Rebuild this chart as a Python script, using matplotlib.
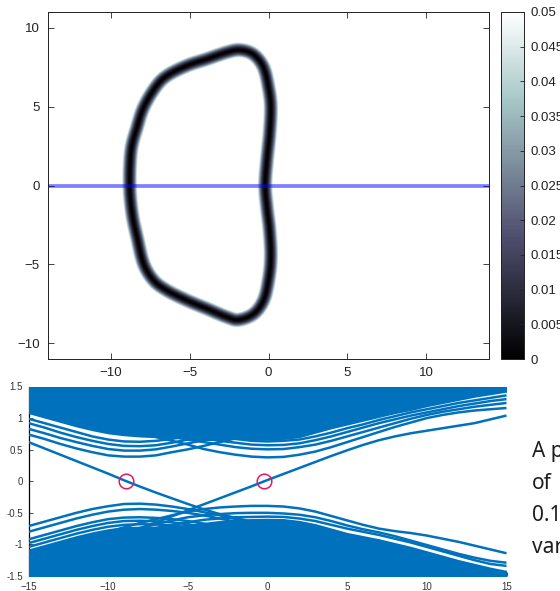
import numpy as np
import matplotlib
matplotlib.use("Agg")
import matplotlib.pyplot as plt

plt.rcParams['font.family'] = ['Liberation Sans', 'DejaVu Sans']

# ---------------------------------------------------------------
# Zero-energy loop in the (kx, ky) plane (closed, counter-clockwise)
# ---------------------------------------------------------------
loop_kx = [-8.83, -8.74, -8.36, -7.94, -7.19, -6.45, -5.18, -3.91, -2.64, -1.80,
           -0.95, -0.32, 0.00, 0.15, 0.07, -0.10, -0.21,
           -0.10, 0.07, 0.15, 0.00, -0.32, -0.95, -1.90, -2.64, -3.91,
           -5.18, -6.45, -7.30, -7.94, -8.36, -8.67]
loop_ky = [0.00, 2.22, 3.70, 4.97, 6.24, 6.98, 7.62, 8.04, 8.47, 8.61,
           8.32, 7.51, 6.24, 4.97, 3.28, 1.59, 0.00,
           -1.38, -2.86, -4.55, -6.03, -7.30, -8.15, -8.53, -8.36, -7.83,
           -7.30, -6.67, -6.03, -4.97, -3.28, -1.80]

# horizontal cut through the Brillouin zone
cut_ky = 0.0

# colour scale of the gap map
gap_ticks = [0, 0.005, 0.01, 0.015, 0.02, 0.025, 0.03, 0.035, 0.04, 0.045, 0.05]
gap_labels = ['0', '0.005', '0.01', '0.015', '0.02', '0.025', '0.03', '0.035',
              '0.04', '0.045', '0.05']

# ---------------------------------------------------------------
# Ribbon spectrum along the cut, sampled at k = -15 ... 15
# ---------------------------------------------------------------
k = np.arange(-15, 16)

edge_1 = [0.62, 0.52, 0.42, 0.32, 0.22, 0.12, 0.015, -0.085, -0.18, -0.27, -0.36,
          -0.445, -0.52, -0.58, -0.64, -0.70, -0.76, -0.82, -0.88, -0.94, -1.00,
          -1.06, -1.12, -1.18, -1.24, -1.30, -1.36, -1.42, -1.48, -1.54, -1.60]
edge_2 = [-1.41, -1.32, -1.22, -1.13, -1.03, -0.94, -0.84, -0.75, -0.65, -0.555, -0.46,
          -0.365, -0.27, -0.175, -0.08, 0.02, 0.115, 0.21, 0.305, 0.40, 0.49,
          0.575, 0.65, 0.71, 0.76, 0.80, 0.84, 0.88, 0.92, 0.98, 1.04]

# conduction-side subbands
a1 = [0.74, 0.67, 0.59, 0.52, 0.46, 0.41, 0.39, 0.39, 0.41, 0.46, 0.505, 0.56, 0.62,
      0.68, 0.74, 0.80, 0.86, 0.92, 0.98, 1.04, 1.10, 1.16, 1.22, 1.28, 1.34, 1.40,
      1.46, 1.52, 1.58, 1.64, 1.70]
a2 = [0.83, 0.76, 0.685, 0.62, 0.56, 0.51, 0.485, 0.485, 0.505, 0.55, 0.60, 0.65, 0.71,
      0.77, 0.83, 0.89, 0.95, 1.01, 1.07, 1.13, 1.19, 1.25, 1.31, 1.37, 1.43, 1.49,
      1.55, 1.61, 1.67, 1.73, 1.79]
a3 = [0.92, 0.85, 0.77, 0.70, 0.64, 0.59, 0.56, 0.555, 0.57, 0.61, 0.66, 0.71, 0.77,
      0.83, 0.89, 0.95, 1.01, 1.07, 1.13, 1.19, 1.25, 1.31, 1.37, 1.43, 1.49, 1.55,
      1.61, 1.67, 1.73, 1.79, 1.85]
a4 = [0.99, 0.92, 0.85, 0.78, 0.71, 0.66, 0.63, 0.625, 0.64, 0.67, 0.72, 0.77, 0.83,
      0.89, 0.95, 1.01, 1.07, 1.13, 1.19, 1.25, 1.31, 1.37, 1.43, 1.49, 1.55, 1.61,
      1.67, 1.73, 1.79, 1.85, 1.91]
b1 = [1.30, 1.22, 1.14, 1.06, 0.98, 0.90, 0.83, 0.76, 0.70, 0.64, 0.58, 0.51, 0.46,
      0.42, 0.39, 0.378, 0.385, 0.42, 0.47, 0.54, 0.62, 0.70, 0.78, 0.86, 0.93, 1.00,
      1.05, 1.09, 1.12, 1.14, 1.16]
b2 = [1.38, 1.30, 1.22, 1.14, 1.06, 0.98, 0.91, 0.84, 0.77, 0.71, 0.66, 0.62, 0.58,
      0.54, 0.515, 0.505, 0.51, 0.54, 0.58, 0.64, 0.71, 0.78, 0.85, 0.92, 0.99, 1.05,
      1.10, 1.14, 1.18, 1.21, 1.24]
b3 = [1.45, 1.37, 1.29, 1.21, 1.13, 1.05, 0.97, 0.90, 0.83, 0.77, 0.72, 0.68, 0.64,
      0.61, 0.58, 0.57, 0.575, 0.60, 0.65, 0.71, 0.78, 0.85, 0.92, 0.98, 1.04, 1.09,
      1.14, 1.19, 1.23, 1.27, 1.30]
b4 = [1.52, 1.44, 1.36, 1.28, 1.20, 1.12, 1.04, 0.97, 0.90, 0.84, 0.79, 0.74, 0.70,
      0.67, 0.64, 0.63, 0.64, 0.66, 0.71, 0.77, 0.84, 0.90, 0.97, 1.03, 1.09, 1.14,
      1.19, 1.24, 1.28, 1.32, 1.36]
conduction_edge = [1.07, 1.00, 0.93, 0.86, 0.80, 0.75, 0.72, 0.70, 0.69, 0.68, 0.66,
                   0.64, 0.65, 0.66, 0.66, 0.65, 0.66, 0.69, 0.76, 0.83, 0.89, 0.95,
                   1.01, 1.07, 1.12, 1.18, 1.23, 1.28, 1.33, 1.37, 1.41]

# valence-side subbands
la1 = [-0.71, -0.64, -0.57, -0.50, -0.44, -0.395, -0.36, -0.355, -0.37, -0.40, -0.44,
       -0.49, -0.54, -0.60, -0.66, -0.72, -0.78, -0.84, -0.90, -0.96, -1.02, -1.08,
       -1.14, -1.20, -1.26, -1.32, -1.38, -1.44, -1.50, -1.56, -1.62]
la2 = [-0.80, -0.73, -0.66, -0.59, -0.53, -0.48, -0.45, -0.44, -0.45, -0.47, -0.50,
       -0.54, -0.59, -0.64, -0.70, -0.76, -0.82, -0.88, -0.94, -1.00, -1.06, -1.12,
       -1.18, -1.24, -1.30, -1.36, -1.42, -1.48, -1.54, -1.60, -1.66]
la3 = [-0.92, -0.85, -0.78, -0.71, -0.65, -0.60, -0.575, -0.57, -0.58, -0.60, -0.63,
       -0.67, -0.72, -0.77, -0.83, -0.89, -0.95, -1.01, -1.07, -1.13, -1.19, -1.25,
       -1.31, -1.37, -1.43, -1.49, -1.55, -1.61, -1.67, -1.73, -1.79]
la4 = [-0.98, -0.91, -0.84, -0.77, -0.71, -0.66, -0.63, -0.625, -0.635, -0.65, -0.68,
       -0.72, -0.77, -0.82, -0.88, -0.94, -1.00, -1.06, -1.12, -1.18, -1.24, -1.30,
       -1.36, -1.42, -1.48, -1.54, -1.60, -1.66, -1.72, -1.78, -1.84]
la5 = [-1.04, -0.97, -0.90, -0.83, -0.77, -0.72, -0.69, -0.68, -0.685, -0.70, -0.73,
       -0.77, -0.82, -0.87, -0.93, -0.99, -1.05, -1.11, -1.17, -1.23, -1.29, -1.35,
       -1.41, -1.47, -1.53, -1.59, -1.65, -1.71, -1.77, -1.83, -1.89]
lb1 = [-1.20, -1.12, -1.04, -0.96, -0.88, -0.80, -0.73, -0.66, -0.60, -0.54, -0.48,
       -0.44, -0.415, -0.40, -0.39, -0.39, -0.40, -0.43, -0.48, -0.55, -0.62, -0.69,
       -0.75, -0.79, -0.82, -0.86, -0.91, -0.96, -1.02, -1.08, -1.14]
lb2 = [-1.28, -1.20, -1.12, -1.04, -0.96, -0.88, -0.81, -0.74, -0.68, -0.62, -0.57,
       -0.54, -0.52, -0.505, -0.50, -0.50, -0.51, -0.53, -0.57, -0.63, -0.70, -0.76,
       -0.81, -0.87, -0.94, -1.01, -1.08, -1.15, -1.21, -1.26, -1.29]
lb3 = [-1.34, -1.26, -1.18, -1.10, -1.02, -0.94, -0.87, -0.80, -0.74, -0.69, -0.65,
       -0.61, -0.59, -0.57, -0.565, -0.56, -0.565, -0.59, -0.63, -0.69, -0.75, -0.80,
       -0.85, -0.91, -0.97, -1.04, -1.11, -1.18, -1.25, -1.31, -1.34]
valence_edge = [-1.07, -1.00, -0.93, -0.86, -0.80, -0.75, -0.72, -0.71, -0.71, -0.70,
                -0.68, -0.65, -0.62, -0.60, -0.59, -0.585, -0.59, -0.62, -0.67, -0.74,
                -0.81, -0.86, -0.91, -0.97, -1.03, -1.10, -1.17, -1.24, -1.30, -1.36,
                -1.41]

# zero-energy crossings of the edge states
crossing_k = [-8.85, -0.2]
crossing_E = [0.0, 0.0]

x_ticks = [-15, -10, -5, 0, 5, 10, 15]
y_ticks = [-1.5, -1, -0.5, 0, 0.5, 1, 1.5]
y_tick_labels = ['-1.5', '-1', '-0.5', '0', '0.5', '1', '1.5']

caption_lines = ['A p', 'of', '0.1', 'var']

# ---------------------------------------------------------------
# helpers
# ---------------------------------------------------------------
def closed_spline(px, py, n_per_seg=30):
    P = np.column_stack([px, py])
    n = len(P)
    t = np.linspace(0, 1, n_per_seg, endpoint=False)[:, None]
    segs = []
    for i in range(n):
        p0, p1, p2, p3 = P[i - 1], P[i], P[(i + 1) % n], P[(i + 2) % n]
        segs.append(0.5 * (2 * p1 + (-p0 + p2) * t
                           + (2 * p0 - 5 * p1 + 4 * p2 - p3) * t ** 2
                           + (-p0 + 3 * p1 - 3 * p2 + p3) * t ** 3))
    return np.vstack(segs)


curve = closed_spline(loop_kx, loop_ky)
kx_grid = np.linspace(-14, 14, 600)
ky_grid = np.linspace(-11, 11, 480)
dist = np.empty((ky_grid.size, kx_grid.size))
for j, ky in enumerate(ky_grid):
    dx = kx_grid[:, None] - curve[None, :, 0]
    dy = ky - curve[None, :, 1]
    dist[j] = np.sqrt((dx ** 2 + dy ** 2).min(axis=1))
gap = 0.05 * (dist / 0.48) ** 1.8

# ---------------------------------------------------------------
# figure
# ---------------------------------------------------------------
W, H = 560, 591
fig = plt.figure(figsize=(W / 100, H / 100), dpi=100)


def px_axes(left, top, right, bottom):
    return fig.add_axes([left / W, 1 - bottom / H, (right - left) / W, (bottom - top) / H])


ax1 = px_axes(48, 12, 489, 359)
im = ax1.imshow(gap, extent=[-14, 14, -11, 11], origin='lower', cmap='bone',
                vmin=0, vmax=0.05, aspect='auto', interpolation='bilinear')
ax1.axhline(cut_ky, color='blue', alpha=0.5, lw=2.7)
ax1.set_xlim(-14, 14)
ax1.set_ylim(-11, 11)
ax1.set_xticks([-10, -5, 0, 5, 10])
ax1.set_yticks([-10, -5, 0, 5, 10])
ax1.tick_params(direction='in', top=True, right=True, length=4, width=0.6,
                labelsize=9.5, pad=6, colors='#222222')
for s in ax1.spines.values():
    s.set_linewidth(0.7)
    s.set_color('#222222')

cax = px_axes(501, 12, 524, 359)
cb = fig.colorbar(im, cax=cax, ticks=gap_ticks)
cb.ax.set_yticklabels(gap_labels)
cb.ax.tick_params(direction='in', length=3, width=0.6, labelsize=9.5, pad=5,
                  colors='#222222')
cb.outline.set_linewidth(0.7)
cb.outline.set_edgecolor('#222222')

ax2 = px_axes(28.5, 386.5, 506.5, 576)
blue = '#0072BD'
ax2.fill_between(k, conduction_edge, 1.6, color=blue, lw=0, zorder=3)
ax2.fill_between(k, -1.6, valence_edge, color=blue, lw=0, zorder=3)
for band in [a1, a2, a3, a4, b1, b2, b3, b4, la1, la2, la3, la4, la5,
             lb1, lb2, lb3, edge_1, edge_2]:
    ax2.plot(k, band, color=blue, lw=1.8, zorder=3, solid_capstyle='butt')
ax2.plot(crossing_k, crossing_E, 'o', mfc='none', mec='#e8175d', mew=1.1,
         ms=10.5, zorder=4)
ax2.set_xlim(-15, 15)
ax2.set_ylim(-1.5, 1.5)
ax2.set_xticks(x_ticks)
ax2.set_yticks(y_ticks)
ax2.set_yticklabels(y_tick_labels)
ax2.tick_params(direction='in', length=3, width=0.6, labelsize=7, pad=4,
                colors='#333333')
for name in ['top', 'right', 'bottom']:
    ax2.spines[name].set_visible(False)
ax2.spines['left'].set_linewidth(0.9)
ax2.spines['left'].set_color('black')

for i, line in enumerate(caption_lines):
    fig.text(532 / W, 1 - (457.3 + 32 * i) / H, line, fontsize=15,
             family=['Noto Sans', 'DejaVu Sans'], color='#1e1e1e', va='baseline')

fig.savefig('out.png', dpi=100)
